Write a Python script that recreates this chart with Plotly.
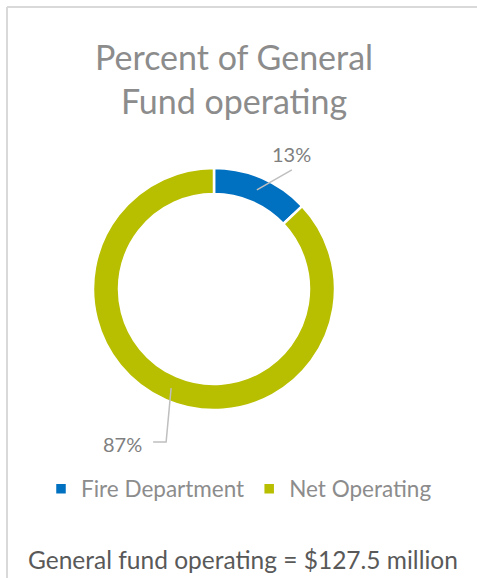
import math
import plotly.graph_objects as go

# Data
categories = ["Fire Department", "Net Operating"]
percents = [13, 87]
colors = ["#0070C0", "#B8BE00"]
title_text = "Percent of General<br>Fund operating"
footer_text = "General fund operating = $127.5 million"

W, H = 477, 578
FONT = "Corbel, Lato, 'Open Sans', sans-serif"

# Donut geometry (pixels)
cx, cy, r_out = 214, 289, 121
hole = 0.785
r_mid = r_out * (1 + hole) / 2


def px(x):
    return x / W


def py(y):
    return 1 - y / H


fig = go.Figure(
    go.Pie(
        labels=categories,
        values=percents,
        hole=hole,
        sort=False,
        direction="clockwise",
        rotation=0,
        marker=dict(colors=colors, line=dict(color="white", width=2.5)),
        textinfo="none",
        hoverinfo="label+percent",
        domain=dict(x=[px(cx - r_out), px(cx + r_out)], y=[py(cy + r_out), py(cy - r_out)]),
    )
)

# Anchor points at the middle of each slice on the ring
total = sum(percents)
anchors = []
cum = 0
for v in percents:
    mid = (cum + v / 2) / total * 2 * math.pi
    anchors.append((cx + r_mid * math.sin(mid), cy - r_mid * math.cos(mid)))
    cum += v

leader_color = "#BFBFBF"
label_color = "#7F7F7F"
shapes = []
annotations = []

# Leader + label for first slice (straight line up-right)
ax0, ay0 = anchors[0]
end0 = (ax0 + 35, ay0 - 20)
shapes.append(dict(type="line", xref="paper", yref="paper",
                   x0=px(ax0), y0=py(ay0), x1=px(end0[0]), y1=py(end0[1]),
                   line=dict(color=leader_color, width=1.5)))
annotations.append(dict(x=px(end0[0]), y=py(end0[1] - 2), xref="paper", yref="paper",
                        text=f"{percents[0]}%", showarrow=False, xanchor="center", yanchor="bottom",
                        font=dict(family=FONT, size=20, color=label_color)))

# Leader + label for second slice (elbow down then left)
ax1, ay1 = anchors[1]
elbow = (ax1 - 5, ay1 + 54)
end1 = (elbow[0] - 13, elbow[1])
shapes.append(dict(type="path", xref="paper", yref="paper",
                   path=f"M {px(ax1)},{py(ay1)} L {px(elbow[0])},{py(elbow[1])} L {px(end1[0])},{py(end1[1])}",
                   line=dict(color=leader_color, width=1.5)))
annotations.append(dict(x=px(end1[0] - 9), y=py(end1[1] + 2), xref="paper", yref="paper",
                        text=f"{percents[1]}%", showarrow=False, xanchor="right", yanchor="middle",
                        font=dict(family=FONT, size=20, color=label_color)))

# Title
annotations.append(dict(x=px(234), y=py(78), xref="paper", yref="paper",
                        text=title_text, showarrow=False, xanchor="center", yanchor="middle",
                        align="center",
                        font=dict(family=FONT, size=34, color="#8C8C8C")))

# Footer
annotations.append(dict(x=px(243), y=py(559), xref="paper", yref="paper",
                        text=footer_text, showarrow=False, xanchor="center", yanchor="middle",
                        font=dict(family=FONT, size=24.5, color="#595959")))

# Chart frame (top and left edges visible)
shapes.append(dict(type="line", xref="paper", yref="paper", x0=px(7), y0=py(7), x1=1.01, y1=py(7),
                   line=dict(color="#D9D9D9", width=2)))
shapes.append(dict(type="line", xref="paper", yref="paper", x0=px(7), y0=py(7), x1=px(7), y1=-0.01,
                   line=dict(color="#D9D9D9", width=2)))

fig.update_layout(
    width=W, height=H,
    margin=dict(l=0, r=0, t=0, b=0),
    paper_bgcolor="white",
    plot_bgcolor="white",
    showlegend=True,
    legend=dict(orientation="h", x=px(239), xanchor="center", y=py(489), yanchor="middle",
                font=dict(family=FONT, size=22.5, color="#8C8C8C"),
                entrywidth=0, itemclick=False, itemdoubleclick=False),
    shapes=shapes,
    annotations=annotations,
)

fig.write_html("out.html")
